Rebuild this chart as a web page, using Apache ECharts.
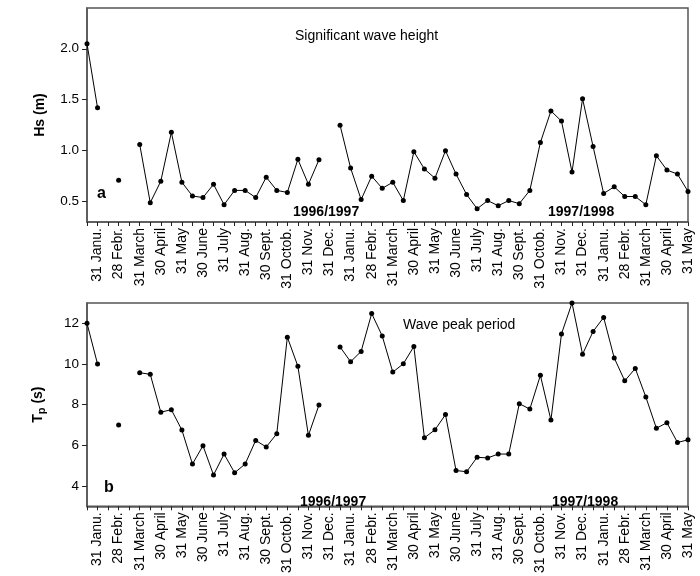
<!DOCTYPE html>
<html><head><meta charset="utf-8">
<script src="https://cdn.jsdelivr.net/npm/echarts@6/dist/echarts.min.js"></script>
<style>html,body{margin:0;padding:0;background:#fff}#c{width:700px;height:576px}</style>
</head><body><div id="c"></div>
<script>
// Month-end labels (every second half-month position)
const monthLabels = ['31 Janu.','28 Febr.','31 March','30 April','31 May','30 June','31 July','31 Aug.','30 Sept.','31 Octob.','31 Nov.','31 Dec.',
  '31 Janu.','28 Febr.','31 March','30 April','31 May','30 June','31 July','31 Aug.','30 Sept.','31 Octob.','31 Nov.','31 Dec.',
  '31 Janu.','28 Febr.','31 March','30 April','31 May'];
// Significant wave height Hs (m), half-monthly
const hs = [2.05,1.42,null,0.71,null,1.06,0.49,0.70,1.18,0.69,0.555,0.54,0.67,0.47,0.61,0.61,0.54,0.74,0.61,0.59,0.915,0.67,0.91,null,
  1.25,0.83,0.52,0.75,0.63,0.69,0.51,0.99,0.82,0.73,1.00,0.77,0.57,0.43,0.51,0.46,0.51,0.48,0.61,1.08,1.39,1.29,0.79,1.51,1.04,0.58,0.645,0.55,0.55,0.47,0.95,0.81,0.77,0.60];
// Wave peak period Tp (s), half-monthly
const tp = [12.0,10.0,null,7.0,null,9.57,9.49,7.63,7.75,6.75,5.08,5.98,4.54,5.57,4.65,5.08,6.24,5.92,6.57,11.32,9.89,6.49,7.98,null,
  10.84,10.11,10.62,12.48,11.38,9.6,10.01,10.86,6.37,6.76,7.51,4.76,4.70,5.41,5.38,5.57,5.57,8.05,7.78,9.44,7.24,11.48,13.0,10.48,11.6,12.29,10.3,9.17,9.78,8.38,6.84,7.11,6.14,6.27];
const hsTicks = [0.5,1.0,1.5,2.0];
const tpTicks = [4,6,8,10,12];

const cats = [];
for (let i = 0; i < hs.length; i++) cats.push(i % 2 === 1 ? monthLabels[(i - 1) / 2] : '');

const FONT = 'Liberation Sans, Arial, sans-serif';
const AX = '#555';

function xAxis(gridIndex) {
  return {
    type: 'category', gridIndex, data: cats, boundaryGap: false,
    axisLine: { lineStyle: { color: AX, width: 1.5 } },
    axisTick: { interval: 0, length: 4, lineStyle: { color: '#222' } },
    axisLabel: { interval: (i) => i % 2 === 1, rotate: 90, margin: 6, color: '#000', fontSize: 14, fontFamily: FONT },
    splitLine: { show: false }
  };
}

const chart = echarts.init(document.getElementById('c'), null, { renderer: 'canvas' });
chart.setOption({
  animation: false,
  backgroundColor: '#fff',
  grid: [
    { left: 87, right: 12, top: 8, height: 214, show: true, borderColor: AX, borderWidth: 1.5 },
    { left: 87, right: 12, top: 303, height: 210, show: true, borderColor: AX, borderWidth: 1.5 }
  ],
  xAxis: [xAxis(0), xAxis(1)],
  yAxis: [
    { type: 'value', gridIndex: 0, min: 0.3, max: 2.4,
      name: 'Hs (m)', nameLocation: 'middle', nameGap: 40,
      nameTextStyle: { fontSize: 14, fontWeight: 'bold', color: '#000', fontFamily: FONT },
      axisLine: { show: true, lineStyle: { color: AX, width: 1.5 } },
      axisTick: { show: true, length: 5, customValues: hsTicks, lineStyle: { color: '#222' } },
      axisLabel: { customValues: hsTicks, formatter: (v) => v.toFixed(1), color: '#000', fontSize: 13.5, fontFamily: FONT, margin: 8 },
      splitLine: { show: false } },
    { type: 'value', gridIndex: 1, min: 3, max: 13,
      name: '{b|T}{s|p}{b| (s)}', nameLocation: 'middle', nameGap: 40,
      nameTextStyle: { color: '#000', fontFamily: FONT,
        rich: { b: { fontSize: 14, fontWeight: 'bold', fontFamily: FONT, lineHeight: 18 },
                s: { fontSize: 11, fontWeight: 'bold', fontFamily: FONT, verticalAlign: 'bottom', lineHeight: 10 } } },
      axisLine: { show: true, lineStyle: { color: AX, width: 1.5 } },
      axisTick: { show: true, length: 5, customValues: tpTicks, lineStyle: { color: '#222' } },
      axisLabel: { customValues: tpTicks, color: '#000', fontSize: 13.5, fontFamily: FONT, margin: 8 },
      splitLine: { show: false } }
  ],
  series: [
    { type: 'line', xAxisIndex: 0, yAxisIndex: 0, data: hs, connectNulls: false,
      symbol: 'circle', symbolSize: 5, showAllSymbol: true,
      lineStyle: { color: '#000', width: 1 }, itemStyle: { color: '#000' } },
    { type: 'line', xAxisIndex: 1, yAxisIndex: 1, data: tp, connectNulls: false,
      symbol: 'circle', symbolSize: 5, showAllSymbol: true,
      lineStyle: { color: '#000', width: 1 }, itemStyle: { color: '#000' } }
  ],
  graphic: [
    { type: 'text', left: 295, top: 29, style: { text: 'Significant wave height', fontSize: 14, fontFamily: FONT, fill: '#000' } },
    { type: 'text', left: 403, top: 318, style: { text: 'Wave peak period', fontSize: 14, fontFamily: FONT, fill: '#000' } },
    { type: 'text', left: 97, top: 186, style: { text: 'a', fontSize: 16, fontWeight: 'bold', fontFamily: FONT, fill: '#000' } },
    { type: 'text', left: 104, top: 480, style: { text: 'b', fontSize: 16, fontWeight: 'bold', fontFamily: FONT, fill: '#000' } },
    { type: 'text', left: 293, top: 205, style: { text: '1996/1997', fontSize: 14, fontWeight: 'bold', fontFamily: FONT, fill: '#000' } },
    { type: 'text', left: 548, top: 205, style: { text: '1997/1998', fontSize: 14, fontWeight: 'bold', fontFamily: FONT, fill: '#000' } },
    { type: 'text', left: 300, top: 495, style: { text: '1996/1997', fontSize: 14, fontWeight: 'bold', fontFamily: FONT, fill: '#000' } },
    { type: 'text', left: 552, top: 495, style: { text: '1997/1998', fontSize: 14, fontWeight: 'bold', fontFamily: FONT, fill: '#000' } }
  ]
});
</script></body></html>
